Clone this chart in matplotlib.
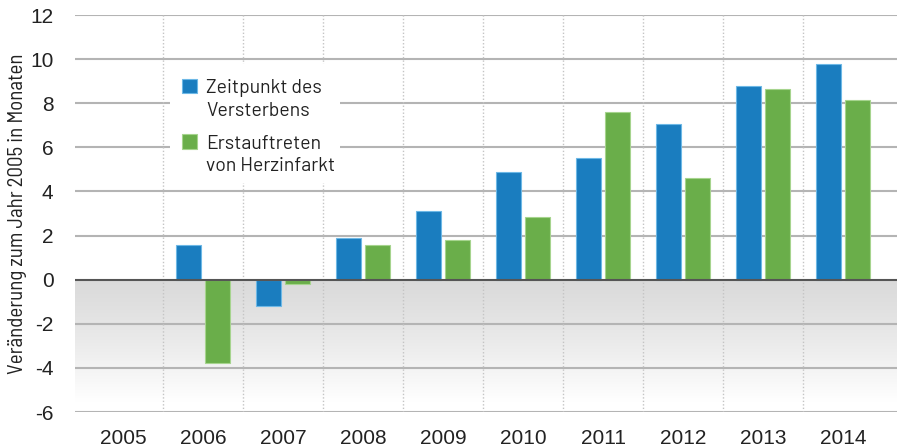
import numpy as np
import matplotlib
matplotlib.use("Agg")
import matplotlib.pyplot as plt
from matplotlib.patches import Rectangle

years = ["2005", "2006", "2007", "2008", "2009", "2010", "2011", "2012", "2013", "2014"]
versterben = [np.nan, 1.55, -1.2, 1.9, 3.1, 4.9, 5.5, 7.05, 8.8, 9.8]
herzinfarkt = [np.nan, -3.8, -0.2, 1.55, 1.8, 2.85, 7.6, 4.6, 8.65, 8.15]
series_names = [["Zeitpunkt des", "Versterbens"], ["Erstauftreten", "von Herzinfarkt"]]
yticks = [-6, -4, -2, 0, 2, 4, 6, 8, 10, 12]

blue = "#1a7dbf"
green = "#6aae4a"
fam = ["Barlow", "DejaVu Sans"]
tickfam = ["Liberation Sans", "DejaVu Sans"]

fig = plt.figure(figsize=(8.97, 4.47), dpi=100)
ax = fig.add_axes([75/897, 35/447, 1 - 75/897, 397/447])
x = np.arange(len(years))
xmin, xmax = -0.6, 9.675
ax.set_xlim(xmin, xmax)
ax.set_ylim(-6, 12)

# gradient background for negative area
grad = np.linspace(0, 1, 256).reshape(-1, 1)
g = 0.855 + (1 - 0.855) * np.clip(grad / 0.92, 0, 1) ** 1.2
cols = np.repeat(g[:, :, None], 3, axis=2)
ax.imshow(cols, extent=[xmin, xmax, -6, 0], aspect="auto", origin="upper", zorder=0)

for yv in yticks:
    if yv == 0:
        continue
    ax.axhline(yv, color="#b4b4b4", lw=1.5, zorder=1)
for xv in x[:-1] + 0.5:
    ax.axvline(xv, color="#c4c4c4", lw=1.0, ls=(0, (1, 1.5)), zorder=1)
ax.axhline(0, color="#555555", lw=1.5, zorder=4)

w = 0.31
off = 0.18
ax.bar(x - off, versterben, width=w, color=blue, edgecolor="#6db8e6", lw=0.8, zorder=3)
ax.bar(x + off, herzinfarkt, width=w, color=green, edgecolor="#a6d48e", lw=0.8, zorder=3)

for s in ax.spines.values():
    s.set_visible(False)
ax.set_yticks(yticks)
ax.set_yticklabels([str(v) for v in yticks], fontsize=15, color="#222222", family=tickfam)
ax.set_xticks(x)
ax.set_xticklabels(years, fontsize=15, color="#222222", family=tickfam)
ax.tick_params(axis="y", length=0, pad=15.5)
ax.tick_params(axis="x", length=0, pad=12)
ax.set_ylabel("Veränderung zum Jahr 2005 in Monaten", fontsize=15, family=["Barlow Semi Condensed", "DejaVu Sans"],
              color="#222222", labelpad=2)

# legend
ax.add_patch(Rectangle((0.586, 4.40), 2.13, 5.39, facecolor="white", edgecolor="none", zorder=5))
ax.add_patch(Rectangle((0.739, 8.46), 0.192, 0.65, facecolor=blue, edgecolor="#6db8e6", lw=0.8, zorder=6))
ax.add_patch(Rectangle((0.739, 5.92), 0.192, 0.68, facecolor=green, edgecolor="#a6d48e", lw=0.8, zorder=6))
for line, yb in zip(series_names[0], [8.46, 7.40]):
    ax.text(1.04, yb, line, fontsize=14, family=fam, va="baseline", ha="left", color="#222222", zorder=7)
for line, yb in zip(series_names[1], [5.92, 4.94]):
    ax.text(1.04, yb, line, fontsize=14, family=fam, va="baseline", ha="left", color="#222222", zorder=7)

fig.savefig("out.png", dpi=100)
